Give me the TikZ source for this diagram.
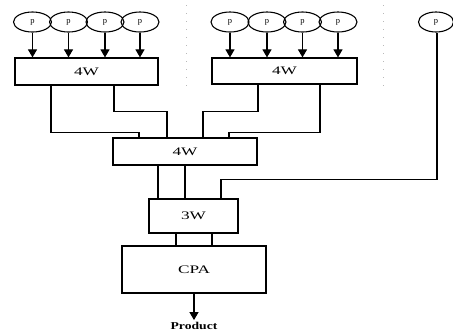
\documentclass[tikz,border=0pt]{standalone}
\usepackage{fontspec}
\setmainfont{Liberation Serif}
\newfontfamily\boxfont[FakeStretch=1.5]{Liberation Serif}
\newfontfamily\prodfont[FakeStretch=1.3]{Liberation Serif}
\usetikzlibrary{arrows.meta,shapes.geometric}
\begin{document}
\begin{tikzpicture}[x=1pt,y=-1pt,
  pin/.style={draw,ellipse,line width=1.1pt,minimum width=38pt,minimum height=20pt,inner sep=0pt,font=\fontsize{8.5}{9}\selectfont},
  unit/.style={draw,rectangle,line width=1.2pt,inner sep=0pt,font=\boxfont\fontsize{11.5}{12}\selectfont},
  feed/.style={line width=1.1pt,-{Triangle[width=9pt,length=8pt]}},
  wire/.style={line width=1.1pt},
  speck/.style={gray!55,line width=0.8pt,dash pattern=on 1pt off 7pt}]
\useasboundingbox (0,0) rectangle (453,333);

% faint dotted separators
\draw[speck] (186,5) -- (186,92);
\draw[speck] (383,5) -- (383,92);

% first group of inputs and its adder
\node[pin] (a1) at (32.5,22) {p};
\node[pin] (a2) at (68.5,22) {p};
\node[pin] (a3) at (105,22) {p};
\node[pin] (a4) at (140,22) {p};
\node[unit,minimum width=143pt,minimum height=27pt] (L) at (86.5,71.5) {4W};

% second group of inputs and its adder
\node[pin] (b1) at (230,22) {p};
\node[pin] (b2) at (267,22) {p};
\node[pin] (b3) at (302.5,22) {p};
\node[pin] (b4) at (338,22) {p};
\node[unit,minimum width=145pt,minimum height=26pt] (R) at (284.5,71) {4W};

% lone input
\node[pin,minimum width=35pt] (c1) at (436,22) {p};

% second level, third level, final adder
\node[unit,minimum width=144pt,minimum height=27pt] (M) at (185,151.5) {4W};
\node[unit,minimum width=89pt,minimum height=34pt] (T) at (193.5,216) {3W};
\node[unit,minimum width=144pt,minimum height=47pt] (C) at (194,269.5) {CPA};
\node[font=\prodfont\bfseries\fontsize{10.5}{11}\selectfont,inner sep=1pt] (P) at (194,326) {Product};

% inputs into the first-level adders
\foreach \n in {a1,a2,a3,a4} \draw[feed] (\n.south) -- (\n.south |- L.north);
\foreach \n in {b1,b2,b3,b4} \draw[feed] (\n.south) -- (\n.south |- R.north);

% first level to second level
\draw[wire] ([xshift=-35.5pt]L.south) -- ++(0,47) -| ([xshift=-46pt]M.north);
\draw[wire] ([xshift=27.5pt]L.south) -- ++(0,26) -| ([xshift=-18pt]M.north);
\draw[wire] ([xshift=-26.5pt]R.south) -- ++(0,27) -| ([xshift=18pt]M.north);
\draw[wire] ([xshift=35.5pt]R.south) -- ++(0,48) -| ([xshift=44pt]M.north);

% second level to third level
\draw[wire] ([xshift=-27pt]M.south) -- ([xshift=-27pt]M.south |- T.north);
\draw[wire] (M.south) -- (M.south |- T.north);
\draw[wire] ([xshift=1pt]c1.south) -- ++(0,147) -| ([xshift=27.5pt]T.north);

% third level to carry-propagate adder
\draw[wire] ([xshift=-17.5pt]T.south) -- ([xshift=-17.5pt]T.south |- C.north);
\draw[wire] ([xshift=18.5pt]T.south) -- ([xshift=18.5pt]T.south |- C.north);

% output
\draw[feed] (C.south) -- ([yshift=1pt]P.north);
\end{tikzpicture}
\end{document}
